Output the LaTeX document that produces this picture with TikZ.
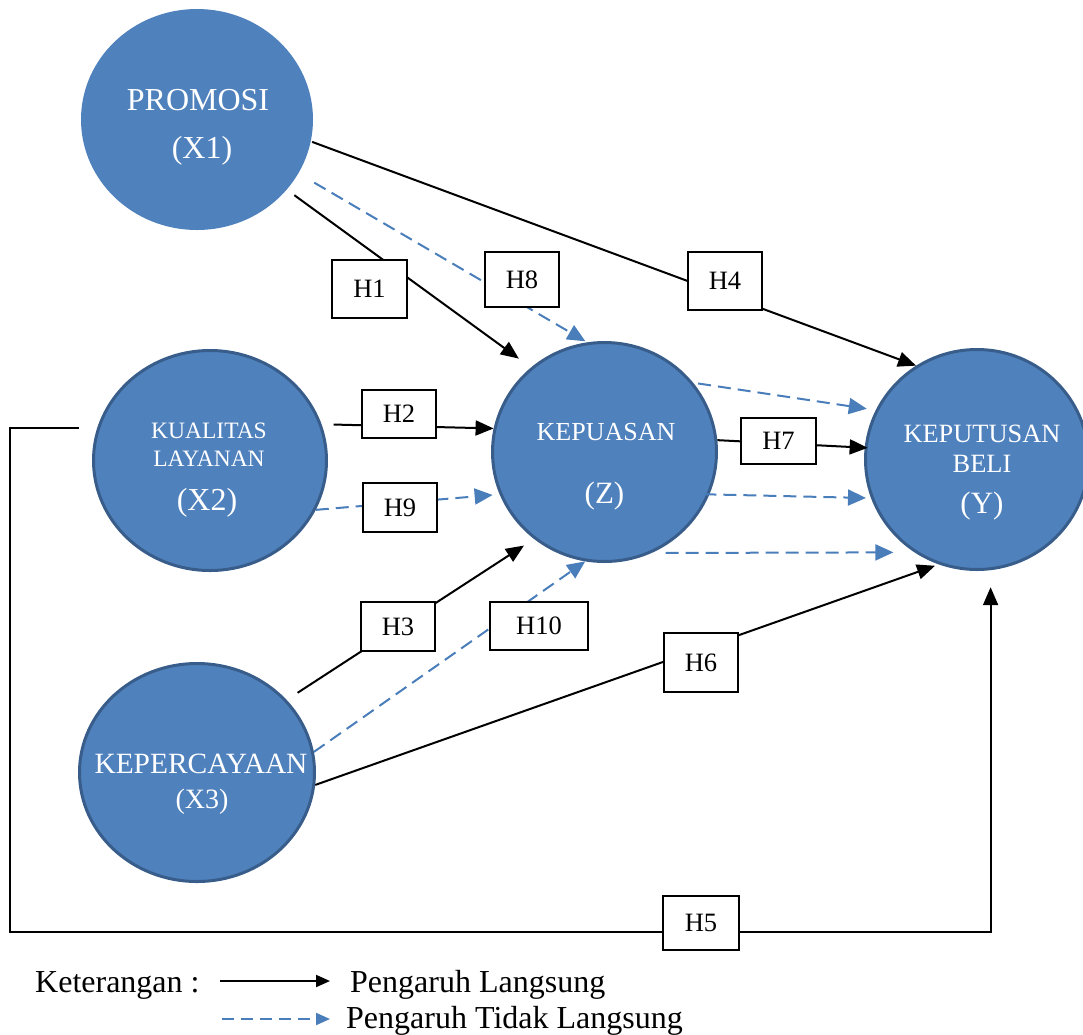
\documentclass[tikz,border=0pt]{standalone}
\usepackage{fontspec}
\setmainfont{Liberation Serif}
\usetikzlibrary{arrows.meta,shapes.geometric}
\definecolor{cfill}{HTML}{4F81BD}
\definecolor{cborder}{HTML}{385D8A}
\definecolor{cdash}{HTML}{4A7EBB}
\begin{document}
\begin{tikzpicture}[x=1pt,y=-1pt,
  var/.style={ellipse, fill=cfill, draw=cborder, line width=3pt, inner sep=0pt},
  vtext/.style={text=white, anchor=base, inner sep=0pt},
  hbox/.style={draw=black, line width=1.2pt, fill=white, inner sep=0pt, font=\fontsize{26.5}{30}\selectfont},
  direct/.style={line width=2pt, -{Triangle[length=18pt,width=15pt]}},
  indirect/.style={cdash, line width=2pt, dash pattern=on 13pt off 7pt, -{Triangle[length=18pt,width=16pt]}},
  legtext/.style={anchor=base west, inner sep=0pt, font=\fontsize{32}{38}\selectfont},
]
\useasboundingbox (0,0) rectangle (1083,1034);
\clip (0,0) rectangle (1083,1034);

% variables
\node[var, draw=none, minimum width=232pt, minimum height=221pt] (prom) at (197,119.5) {};
\node[var, minimum width=233pt, minimum height=220pt] (kual) at (210,460.5) {};
\node[var, minimum width=224pt, minimum height=219pt] (kepu) at (604.5,452) {};
\node[var, minimum width=223pt, minimum height=220pt] (kept) at (977,459.5) {};
\node[var, minimum width=235pt, minimum height=218pt] (kepc) at (197,772.5) {};

% texts inside circles
\node[vtext, font=\fontsize{32}{38}\selectfont] (tp1) at (198,110) {PROMOSI};
\node[vtext, font=\fontsize{32}{38}\selectfont] (tp2) at (202,158) {(X1)};
\node[vtext, font=\fontsize{23.5}{28}\selectfont] (tk1) at (209,438) {KUALITAS};
\node[vtext, font=\fontsize{23.5}{28}\selectfont] (tk2) at (209,466) {LAYANAN};
\node[vtext, font=\fontsize{32}{38}\selectfont] (tk3) at (207,510) {(X2)};
\node[vtext, font=\fontsize{26}{30}\selectfont] (tz1) at (606,440) {KEPUASAN};
\node[vtext, font=\fontsize{31}{36}\selectfont] (tz2) at (604.5,503) {(Z)};
\node[vtext, font=\fontsize{26.4}{30}\selectfont] (ty1) at (982,442) {KEPUTUSAN};
\node[vtext, font=\fontsize{26.4}{30}\selectfont] (ty2) at (982,472) {BELI};
\node[vtext, font=\fontsize{31}{36}\selectfont] (ty3) at (982,513) {(Y)};
\node[vtext, font=\fontsize{29.4}{34}\selectfont] (tc1) at (201,773) {KEPERCAYAAN};
\node[vtext, font=\fontsize{28}{33}\selectfont] (tc2) at (202,808) {(X3)};

% connectors
\draw[direct, shorten <=8pt, shorten >=15pt] (prom.-38.7) -- (kepu.131.8);   % H1
\draw[indirect, shorten <=17pt, shorten >=2pt] (prom.-28.5) -- (kepu.99.1);  % H8
\draw[direct] (prom.-11.2) -- (kept.123.6);                                  % H4
\draw[direct, shorten <=12pt] (kual.18.4) -- (kepu.168.4);                   % H2
\draw[indirect, shorten >=7pt] (kual.-25) -- (kepu.202.3);                   % H9
\draw[direct, shorten <=13pt, shorten >=12pt] (kepc.39.3) -- (kepu.231.6);   % H3
\draw[indirect] (kepc.10.6) -- (kepu.260.7);                                 % H10
\draw[direct, shorten >=4pt] (kepc.-6.3) -- (kept.250.5);                    % H6
\draw[direct, shorten >=-3pt] (kepu.6.4) -- (kept.174.2);                    % H7
\draw[indirect, shorten <=5pt, shorten >=9pt] (kepu.38.1) -- (kept.154.3);
\draw[indirect, shorten <=-6pt, shorten >=5pt] (kepu.-22.9) -- (kept.200.9);
\draw[indirect, shorten <=14pt, shorten >=21pt] (kepu.-65.5) -- (kept.236);
\coordinate (h5a) at (10,932);
\draw[direct, shorten <=18pt, shorten >=17pt] (kual.164) -| (h5a) -| (kept.-83); % H5

% hypothesis labels
\node[hbox, minimum width=75pt, minimum height=58pt] (h1) at (369.5,289) {H1};
\node[hbox, minimum width=74pt, minimum height=55pt] (h8) at (522,279.5) {H8};
\node[hbox, minimum width=74pt, minimum height=58pt] (h4) at (725,281) {H4};
\node[hbox, minimum width=74pt, minimum height=48pt] (h2) at (399,414) {H2};
\node[hbox, minimum width=74pt, minimum height=49pt] (h9) at (400,507.5) {H9};
\node[hbox, minimum width=75pt, minimum height=46pt] (h7) at (778.5,441) {H7};
\node[hbox, minimum width=74pt, minimum height=49pt] (h3) at (398,626.5) {H3};
\node[hbox, minimum width=98pt, minimum height=48pt] (h10) at (539,626) {H10};
\node[hbox, minimum width=74pt, minimum height=59pt] (h6) at (701,662.5) {H6};
\node[hbox, minimum width=76pt, minimum height=54pt] (h5) at (701,923) {H5};

% legend
\node[legtext] (ket) at (35,992) {Keterangan :};
\coordinate (la1) at (220,981);
\coordinate (la2) at (330,981);
\draw[line width=2pt, -{Triangle[length=14pt,width=12pt]}] (la1) -- (la2);
\node[legtext] (leg1) at (350,992) {Pengaruh Langsung};
\coordinate (lb1) at (222,1019);
\coordinate (lb2) at (330,1019);
\draw[cdash, line width=2pt, dash pattern=on 12pt off 7pt, -{Triangle[length=14pt,width=12pt]}] (lb1) -- (lb2);
\node[legtext] (leg2) at (346,1028) {Pengaruh Tidak Langsung};
\end{tikzpicture}
\end{document}
